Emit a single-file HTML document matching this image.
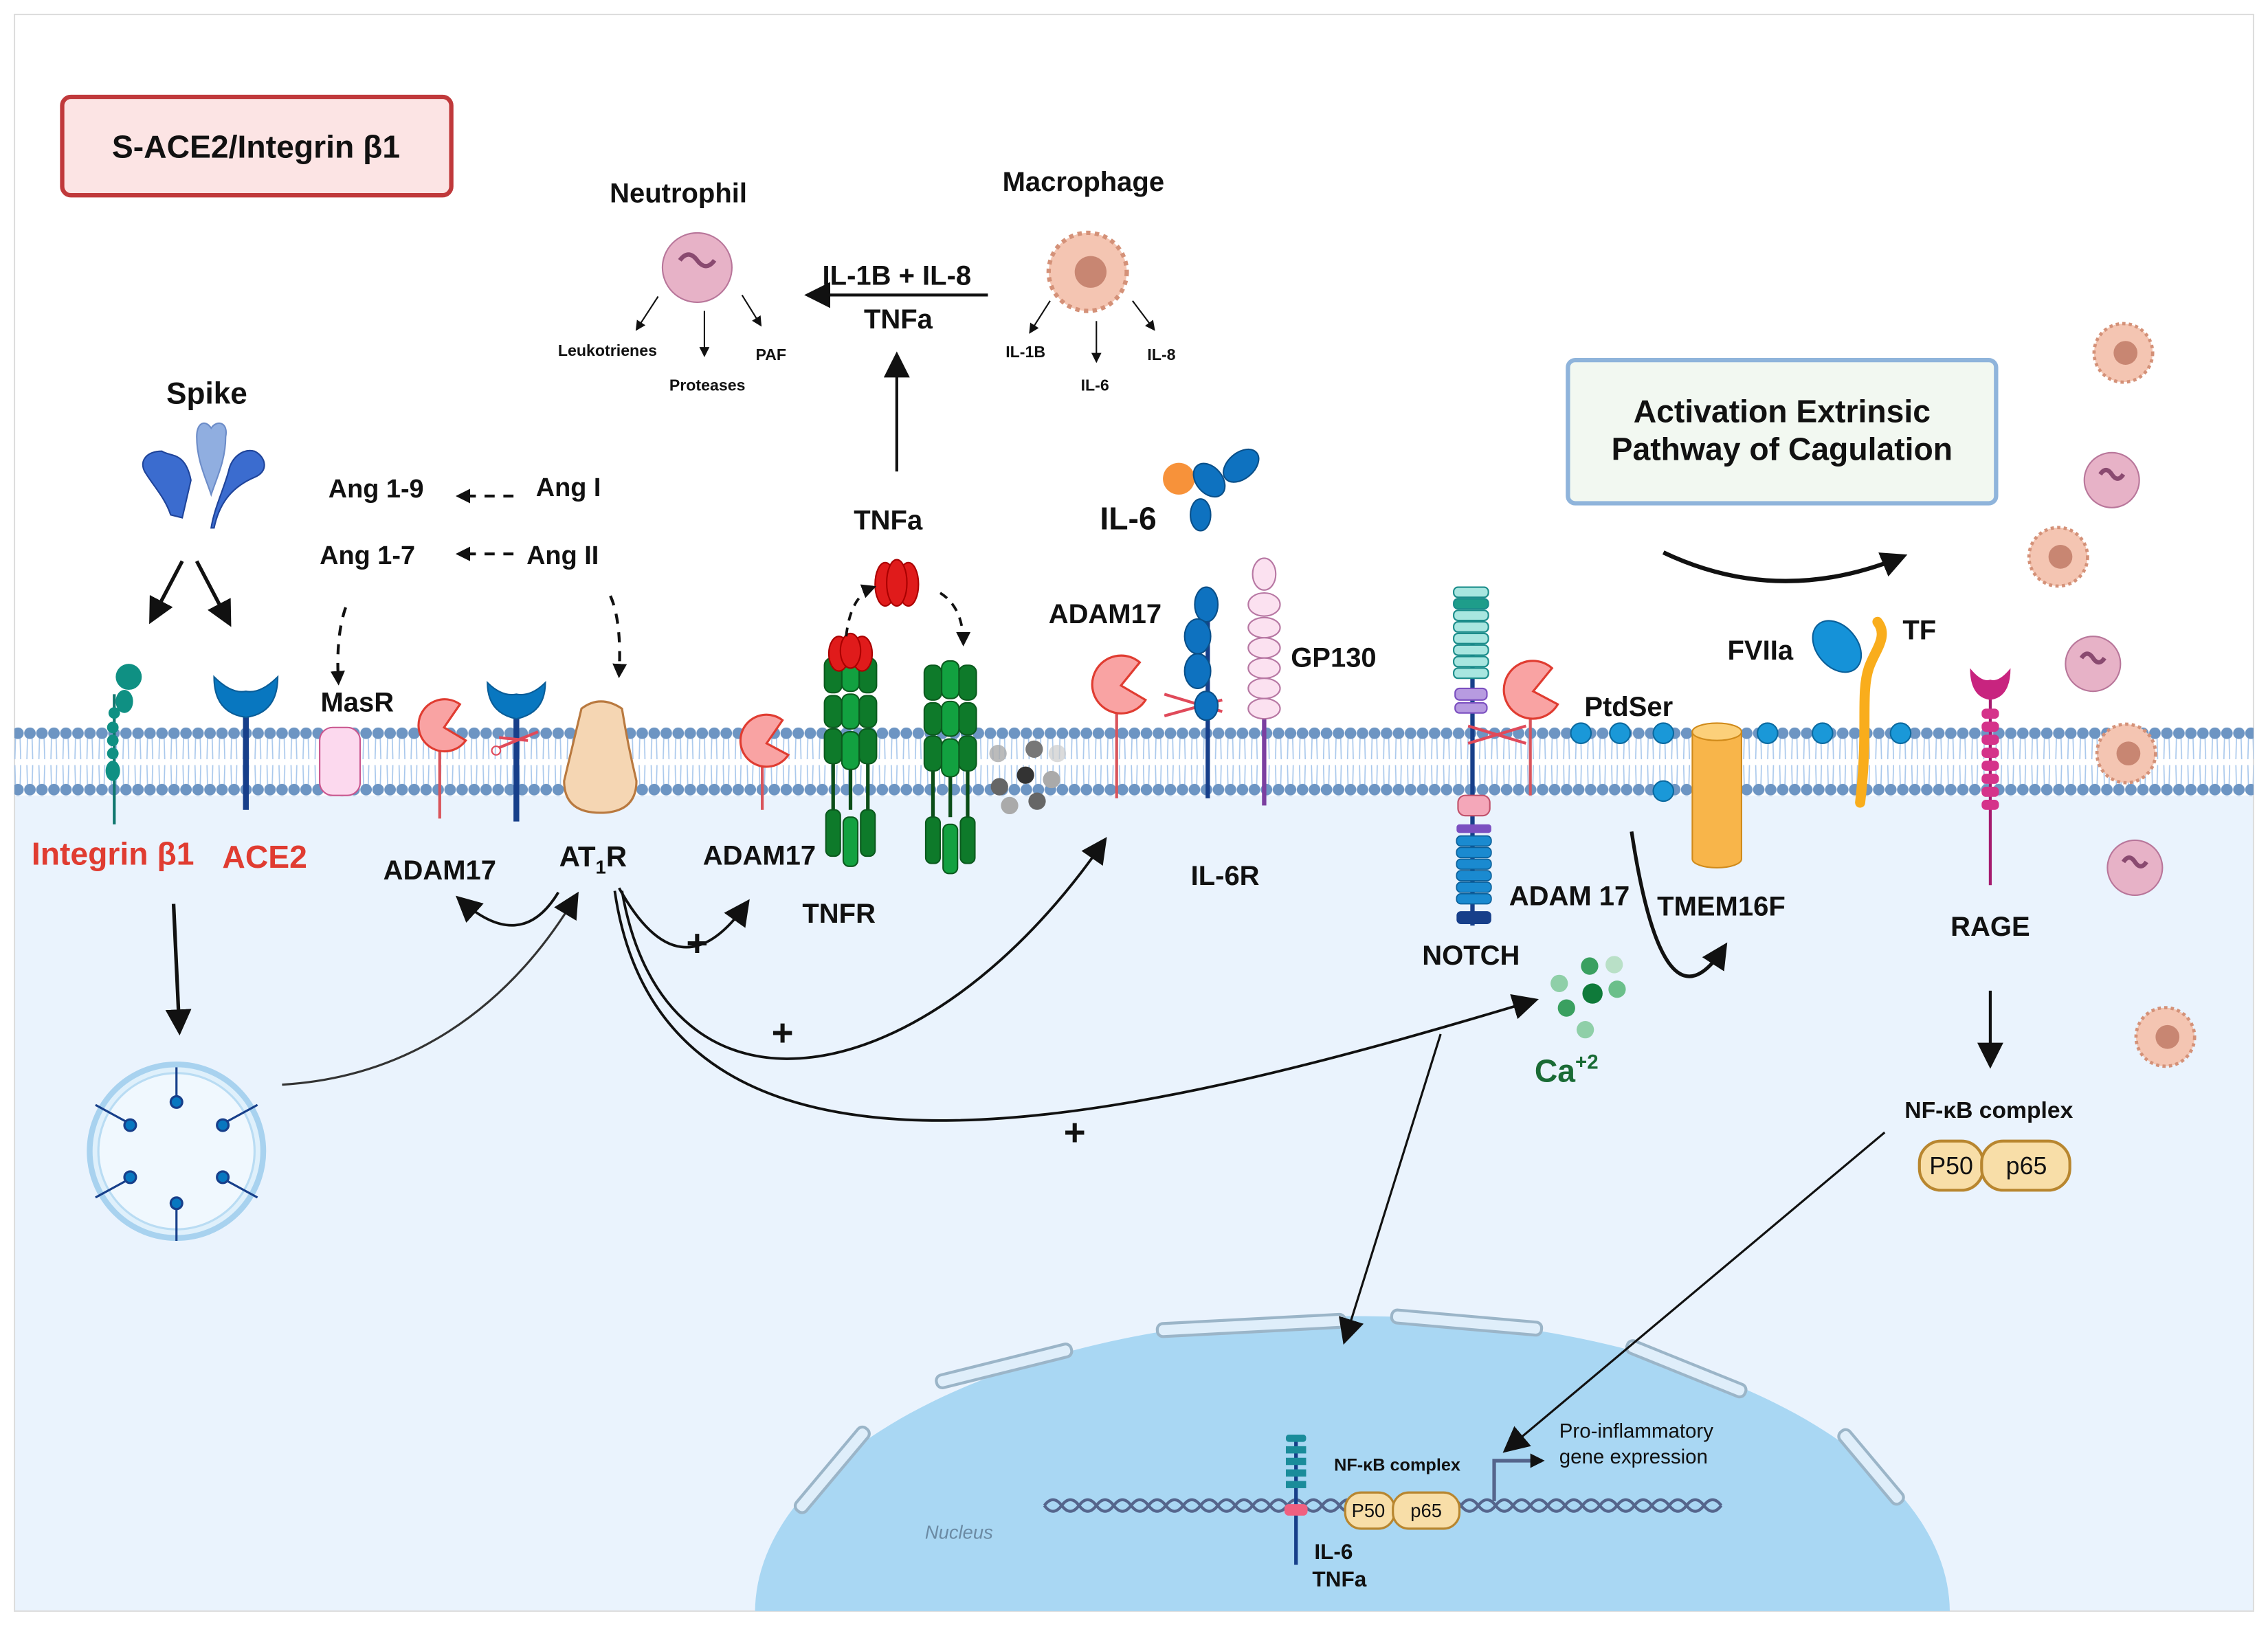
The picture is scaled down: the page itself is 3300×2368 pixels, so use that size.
<!DOCTYPE html>
<html><head><meta charset="utf-8"><style>
html,body{margin:0;padding:0;background:#fff;width:3300px;height:2368px;overflow:hidden;}
svg{display:block;}
text{font-family:"Liberation Sans",sans-serif;font-weight:bold;fill:#111;text-anchor:middle;}
</style></head><body>
<svg width="3300" height="2368" viewBox="0 0 1568 1125" preserveAspectRatio="none" xmlns="http://www.w3.org/2000/svg">
<defs>
<marker id="ah" markerWidth="10" markerHeight="10" refX="8" refY="5" orient="auto" markerUnits="userSpaceOnUse" viewBox="0 0 10 10"><path d="M0,0 L10,5 L0,10 z" fill="#111"/></marker>
<marker id="ahb" markerWidth="18" markerHeight="18" refX="14" refY="9" orient="auto" markerUnits="userSpaceOnUse" viewBox="0 0 18 18"><path d="M0,0 L18,9 L0,18 z" fill="#111"/></marker>
<marker id="ahs" markerWidth="7" markerHeight="7" refX="6" refY="3.5" orient="auto" markerUnits="userSpaceOnUse" viewBox="0 0 7 7"><path d="M0,0 L7,3.5 L0,7 z" fill="#111"/></marker>
<pattern id="lip" x="0" y="503" width="8.3" height="48" patternUnits="userSpaceOnUse">
<path d="M2.5,4 L2,22 M5.5,4 L6,22 M2,26 L2.5,44 M6,26 L5.5,44" stroke="#a9c8ec" stroke-width="0.8" fill="none"/>
<circle cx="4.1" cy="4" r="4" fill="#6d95c3"/>
<circle cx="4.1" cy="43" r="4" fill="#6d95c3"/>
</pattern>
<clipPath id="cl"><rect x="10" y="10" width="1548" height="1104"/></clipPath>
</defs>
<rect x="0" y="0" width="1568" height="1125" fill="#fff"/>
<rect x="10" y="550" width="1548" height="564" fill="#eaf3fd"/>
<rect x="10" y="10" width="1548" height="1104" fill="none" stroke="#ddd" stroke-width="1"/>
<g clip-path="url(#cl)">
<ellipse cx="935" cy="1115" rx="413" ry="205" fill="#a9d7f3"/>
<g fill="#dfeefa" stroke="#9bb5c8" stroke-width="2">
<rect x="538" y="1012" width="74" height="9" rx="4" transform="rotate(-50 575 1016)"/>
<rect x="646" y="940" width="96" height="9" rx="4" transform="rotate(-14 694 944)"/>
<rect x="800" y="912" width="130" height="9" rx="4" transform="rotate(-3 865 916)"/>
<rect x="962" y="910" width="104" height="9" rx="4" transform="rotate(5 1014 914)"/>
<rect x="1122" y="942" width="88" height="9" rx="4" transform="rotate(22 1166 946)"/>
<rect x="1262" y="1010" width="64" height="9" rx="4" transform="rotate(50 1294 1014)"/>
</g>
</g>
<rect x="10" y="503" width="1548" height="48" fill="url(#lip)"/>
<rect x="43" y="67" width="269" height="68" rx="6" fill="#fce4e4" stroke="#c0393b" stroke-width="3"/>
<text x="177" y="109" font-size="22">S-ACE2/Integrin β1</text>
<rect x="1084" y="249" width="296" height="99" rx="5" fill="#f2f8f1" stroke="#8fb4db" stroke-width="3"/>
<text x="1232" y="292" font-size="22">Activation Extrinsic</text>
<text x="1232" y="318" font-size="22">Pathway of Cagulation</text>
<text x="143" y="279" font-size="21">Spike</text>
<g fill="#3b6ccf" stroke="#1f449a" stroke-width="1">
<path d="M132,332 C128,312 118,316 112,312 C102,312 96,318 100,326 C106,336 114,344 118,356 L126,358 Z"/>
<path d="M148,365 C152,346 162,336 176,330 C186,326 184,316 176,312 C168,310 160,316 158,326 C154,340 148,352 146,365 Z"/>
</g>
<path d="M146,342 C142,330 136,318 136,302 C136,292 142,290 146,296 C150,290 158,292 156,302 C156,318 150,330 146,342 Z" fill="#90aee0" stroke="#6c8cc8"/>
<line x1="126" y1="388" x2="105" y2="428" stroke="#111" stroke-width="2.5" marker-end="url(#ahb)"/>
<line x1="136" y1="388" x2="158" y2="430" stroke="#111" stroke-width="2.5" marker-end="url(#ahb)"/>
<line x1="79" y1="480" x2="79" y2="570" stroke="#0f766e" stroke-width="2"/>
<g fill="#0f9083">
<circle cx="89" cy="468" r="9"/><ellipse cx="86" cy="485" rx="6" ry="8"/>
<ellipse cx="79" cy="493" rx="4" ry="4"/><circle cx="78" cy="503" r="4"/><circle cx="78" cy="512" r="4"/><circle cx="78" cy="521" r="4"/><ellipse cx="78" cy="533" rx="5" ry="7"/>
</g>
<text x="78" y="598" font-size="22" style="fill:#e03c31">Integrin β1</text>
<line x1="170" y1="490" x2="170" y2="560" stroke="#173f8a" stroke-width="4"/>
<path d="M148,468 Q160,480 170,478 Q180,480 192,468 Q192,493 170,496 Q148,493 148,468 Z" fill="#0877c0" stroke="#0a5d98"/>
<text x="183" y="600" font-size="22" style="fill:#e03c31">ACE2</text>
<line x1="120" y1="625" x2="124" y2="712" stroke="#111" stroke-width="2.5" marker-end="url(#ahb)"/>
<circle cx="122" cy="796" r="60" fill="#dff0fb" stroke="#a8d2ef" stroke-width="4"/>
<circle cx="122" cy="796" r="54" fill="#f0f8fe" stroke="#b9dcf3" stroke-width="1.5"/>
<g stroke="#173f8a" stroke-width="1.5" fill="#0877c0">
<line x1="122" y1="738" x2="122" y2="760"/><line x1="122" y1="834" x2="122" y2="858"/>
<line x1="66" y1="764" x2="88" y2="776"/><line x1="178" y1="764" x2="156" y2="776"/>
<line x1="66" y1="828" x2="88" y2="816"/><line x1="178" y1="828" x2="156" y2="816"/>
<circle cx="122" cy="762" r="4"/><circle cx="122" cy="832" r="4"/><circle cx="90" cy="778" r="4"/><circle cx="154" cy="778" r="4"/><circle cx="90" cy="814" r="4"/><circle cx="154" cy="814" r="4"/>
</g>
<path d="M195,750 C280,745 350,700 398,620" fill="none" stroke="#333" stroke-width="1.5" marker-end="url(#ahb)"/>
<text x="260" y="344" font-size="18">Ang 1-9</text>
<text x="254" y="390" font-size="18">Ang 1-7</text>
<text x="393" y="343" font-size="18">Ang I</text>
<text x="389" y="390" font-size="18">Ang II</text>
<line x1="355" y1="343" x2="317" y2="343" stroke="#111" stroke-width="2" stroke-dasharray="7,6" marker-end="url(#ah)"/>
<line x1="355" y1="383" x2="317" y2="383" stroke="#111" stroke-width="2" stroke-dasharray="7,6" marker-end="url(#ah)"/>
<path d="M239,420 Q232,440 234,472" fill="none" stroke="#111" stroke-width="2" stroke-dasharray="7,6" marker-end="url(#ah)"/>
<path d="M422,412 Q430,430 428,467" fill="none" stroke="#111" stroke-width="2" stroke-dasharray="7,6" marker-end="url(#ah)"/>
<text x="247" y="492" font-size="19">MasR</text>
<rect x="221" y="503" width="28" height="47" rx="9" fill="#fcd9ee" stroke="#c9568e"/>
<line x1="304" y1="515" x2="304" y2="566" stroke="#d9545b" stroke-width="2"/>
<path d="M318,487 A18,18 0 1 0 322,512 L307,503 Z" fill="#f9a3a3" stroke="#e03c31" stroke-width="1.5"/>
<text x="304" y="608" font-size="19">ADAM17</text>
<line x1="357" y1="485" x2="357" y2="568" stroke="#173f8a" stroke-width="4"/>
<path d="M337,472 Q347,482 357,480 Q367,482 377,472 Q377,493 357,497 Q337,493 337,472 Z" fill="#0877c0" stroke="#0a5d98"/>
<path d="M345,517 L372,506 M345,510 L365,512" stroke="#e04a5a" stroke-width="2"/><circle cx="343" cy="519" r="3" fill="none" stroke="#e04a5a"/>
<path d="M402,490 Q415,480 430,490 Q434,515 440,540 Q440,562 415,562 Q390,562 390,540 Q396,515 402,490 Z" fill="#f5d6b3" stroke="#b9793f" stroke-width="1.5"/>
<text x="410" y="599" font-size="20">AT<tspan font-size="13" dy="5">1</tspan><tspan dy="-5">R</tspan></text>
<path d="M386,617 Q360,660 318,622" fill="none" stroke="#111" stroke-width="1.8" marker-end="url(#ahb)"/>
<path d="M428,614 Q470,690 516,625" fill="none" stroke="#111" stroke-width="1.8" marker-end="url(#ahb)"/>
<path d="M430,616 C460,790 640,760 763,582" fill="none" stroke="#111" stroke-width="1.8" marker-end="url(#ahb)"/>
<path d="M425,616 C460,860 800,770 1060,692" fill="none" stroke="#111" stroke-width="1.8" marker-end="url(#ahb)"/>
<text x="482" y="661" font-size="26">+</text>
<text x="541" y="723" font-size="26">+</text>
<text x="743" y="792" font-size="26">+</text>
<line x1="527" y1="525" x2="527" y2="560" stroke="#d9545b" stroke-width="2"/>
<path d="M541,498 A18,18 0 1 0 545,522 L530,514 Z" fill="#f9a3a3" stroke="#e03c31" stroke-width="1.5"/>
<text x="525" y="598" font-size="19">ADAM17</text>
<g id="tnfr">
<g stroke="#0b5a1e" stroke-width="1">
<line x1="576" y1="525" x2="576" y2="560" stroke="#0b4d18" stroke-width="2.5"/>
<line x1="588" y1="525" x2="588" y2="560" stroke="#0b4d18" stroke-width="2.5"/>
<line x1="600" y1="525" x2="600" y2="560" stroke="#0b4d18" stroke-width="2.5"/>
<rect x="570" y="455" width="12" height="24" rx="5" fill="#0e7a2a"/><rect x="594" y="455" width="12" height="24" rx="5" fill="#0e7a2a"/><rect x="582" y="452" width="12" height="26" rx="5" fill="#12a140"/>
<rect x="570" y="481" width="12" height="22" rx="5" fill="#0e7a2a"/><rect x="594" y="481" width="12" height="22" rx="5" fill="#0e7a2a"/><rect x="582" y="480" width="12" height="24" rx="5" fill="#12a140"/>
<rect x="570" y="504" width="12" height="24" rx="5" fill="#0e7a2a"/><rect x="594" y="504" width="12" height="24" rx="5" fill="#0e7a2a"/><rect x="582" y="506" width="12" height="26" rx="5" fill="#12a140"/>
<rect x="571" y="560" width="10" height="32" rx="4" fill="#0e7a2a"/><rect x="595" y="560" width="10" height="32" rx="4" fill="#0e7a2a"/><rect x="583" y="565" width="10" height="34" rx="4" fill="#12a140"/>
</g></g>
<use href="#tnfr" transform="translate(69,5)"/>
<g fill="#e01b1b" stroke="#a00" stroke-width="1"><ellipse cx="580" cy="452" rx="7" ry="12"/><ellipse cx="596" cy="452" rx="7" ry="12"/><ellipse cx="588" cy="450" rx="7" ry="12"/></g>
<text x="580" y="638" font-size="19">TNFR</text>
<g fill="#e01b1b" stroke="#a00" stroke-width="1"><ellipse cx="612" cy="404" rx="7" ry="15"/><ellipse cx="628" cy="404" rx="7" ry="15"/><ellipse cx="620" cy="403" rx="7" ry="16"/></g>
<text x="614" y="366" font-size="19">TNFa</text>
<path d="M585,440 Q588,412 604,406" fill="none" stroke="#111" stroke-width="1.8" stroke-dasharray="6,5" marker-end="url(#ah)"/>
<path d="M650,410 Q666,420 666,445" fill="none" stroke="#111" stroke-width="1.8" stroke-dasharray="6,5" marker-end="url(#ah)"/>
<line x1="620" y1="326" x2="620" y2="247" stroke="#111" stroke-width="2" marker-end="url(#ahb)"/>
<text x="620" y="197" font-size="19">IL-1B + IL-8</text>
<text x="621" y="227" font-size="19">TNFa</text>
<line x1="683" y1="204" x2="560" y2="204" stroke="#111" stroke-width="2" marker-end="url(#ahb)"/>
<g><circle cx="690" cy="521" r="6" fill="#aaa" opacity="0.8"/><circle cx="715" cy="518" r="6" fill="#777"/><circle cx="731" cy="521" r="6" fill="#ccc" opacity="0.7"/><circle cx="709" cy="536" r="6" fill="#333"/><circle cx="727" cy="539" r="6" fill="#aaa"/><circle cx="691" cy="544" r="6" fill="#666"/><circle cx="698" cy="557" r="6" fill="#aaa"/><circle cx="717" cy="554" r="6" fill="#666"/></g>
<text x="469" y="140" font-size="19">Neutrophil</text>
<circle cx="482" cy="185" r="24" fill="#e7b2c7" stroke="#b8769a"/>
<path d="M470,180 q6,-8 12,0 q6,8 12,0" stroke="#8a4a70" fill="none" stroke-width="3"/>
<line x1="455" y1="205" x2="440" y2="228" stroke="#111" stroke-width="1" marker-end="url(#ahs)"/>
<line x1="487" y1="215" x2="487" y2="246" stroke="#111" stroke-width="1" marker-end="url(#ahs)"/>
<line x1="513" y1="204" x2="526" y2="225" stroke="#111" stroke-width="1" marker-end="url(#ahs)"/>
<text x="420" y="246" font-size="11">Leukotrienes</text>
<text x="489" y="270" font-size="11">Proteases</text>
<text x="533" y="249" font-size="11">PAF</text>
<text x="749" y="132" font-size="19">Macrophage</text>
<g id="mac"><circle cx="752" cy="188" r="27" fill="#f4c5b2" stroke="#d49178" stroke-width="3" stroke-dasharray="3,3"/><circle cx="752" cy="188" r="24" fill="#f4c5b2"/><circle cx="754" cy="188" r="11" fill="#c88672"/></g>
<line x1="726" y1="208" x2="712" y2="230" stroke="#111" stroke-width="1" marker-end="url(#ahs)"/>
<line x1="758" y1="222" x2="758" y2="250" stroke="#111" stroke-width="1" marker-end="url(#ahs)"/>
<line x1="783" y1="208" x2="798" y2="228" stroke="#111" stroke-width="1" marker-end="url(#ahs)"/>
<text x="709" y="247" font-size="11">IL-1B</text>
<text x="757" y="270" font-size="11">IL-6</text>
<text x="803" y="249" font-size="11">IL-8</text>
<text x="780" y="366" font-size="22">IL-6</text>
<circle cx="815" cy="331" r="11" fill="#f7923a"/>
<g fill="#0e72c0" stroke="#0a4f88"><ellipse cx="836" cy="332" rx="9" ry="13" transform="rotate(-40 836 332)"/><ellipse cx="858" cy="322" rx="9" ry="14" transform="rotate(50 858 322)"/><ellipse cx="830" cy="356" rx="7" ry="11"/></g>
<text x="764" y="431" font-size="19">ADAM17</text>
<line x1="772" y1="485" x2="772" y2="552" stroke="#d9545b" stroke-width="2"/>
<path d="M788,458 A20,20 0 1 0 792,484 L775,474 Z" fill="#f9a3a3" stroke="#e03c31" stroke-width="1.5"/>
<path d="M805,480 L845,492 M805,495 L845,484" stroke="#e04a5a" stroke-width="2"/>
<line x1="835" y1="430" x2="835" y2="552" stroke="#173f8a" stroke-width="3"/>
<g fill="#0e72c0" stroke="#0a4f88"><ellipse cx="834" cy="418" rx="8" ry="12"/><ellipse cx="828" cy="440" rx="9" ry="12"/><ellipse cx="828" cy="464" rx="9" ry="12"/><ellipse cx="834" cy="488" rx="8" ry="10"/></g>
<line x1="874" y1="490" x2="874" y2="557" stroke="#7b3fa0" stroke-width="3"/>
<g fill="#fbe1f0" stroke="#b777a3"><ellipse cx="874" cy="397" rx="8" ry="11"/><ellipse cx="874" cy="418" rx="11" ry="8"/><ellipse cx="874" cy="434" rx="11" ry="7"/><ellipse cx="874" cy="448" rx="11" ry="7"/><ellipse cx="874" cy="462" rx="11" ry="7"/><ellipse cx="874" cy="476" rx="11" ry="7"/><ellipse cx="874" cy="490" rx="11" ry="7"/></g>
<text x="922" y="461" font-size="19">GP130</text>
<text x="847" y="612" font-size="19">IL-6R</text>
<line x1="1018" y1="440" x2="1018" y2="640" stroke="#173f8a" stroke-width="3"/>
<g stroke="#1a8c8a" stroke-width="1">
<rect x="1005" y="406" width="24" height="7" rx="3" fill="#a8e6e0"/><rect x="1005" y="414" width="24" height="7" rx="3" fill="#1e9d8a"/><rect x="1005" y="422" width="24" height="7" rx="3" fill="#a8e6e0"/><rect x="1005" y="430" width="24" height="7" rx="3" fill="#a8e6e0"/><rect x="1005" y="438" width="24" height="7" rx="3" fill="#a8e6e0"/><rect x="1005" y="446" width="24" height="7" rx="3" fill="#a8e6e0"/><rect x="1005" y="454" width="24" height="7" rx="3" fill="#a8e6e0"/><rect x="1005" y="462" width="24" height="7" rx="3" fill="#a8e6e0"/>
</g>
<rect x="1006" y="476" width="22" height="8" rx="3" fill="#b79be0" stroke="#7b4fc0"/><rect x="1006" y="486" width="22" height="7" rx="3" fill="#b79be0" stroke="#7b4fc0"/>
<rect x="1008" y="550" width="22" height="14" rx="5" fill="#f4a7b9" stroke="#c0506a"/>
<rect x="1007" y="570" width="24" height="6" rx="2" fill="#7b4fc0"/>
<g fill="#1a8ad0" stroke="#0b5f99" stroke-width="0.8"><rect x="1007" y="578" width="24" height="7" rx="3"/><rect x="1007" y="586" width="24" height="7" rx="3"/><rect x="1007" y="594" width="24" height="7" rx="3"/><rect x="1007" y="602" width="24" height="7" rx="3"/><rect x="1007" y="610" width="24" height="7" rx="3"/><rect x="1007" y="618" width="24" height="7" rx="3"/></g>
<rect x="1007" y="630" width="24" height="9" rx="3" fill="#173f8a"/>
<line x1="1058" y1="490" x2="1058" y2="550" stroke="#d9545b" stroke-width="2"/>
<path d="M1073,462 A20,20 0 1 0 1077,487 L1060,478 Z" fill="#f9a3a3" stroke="#e03c31" stroke-width="1.5"/>
<path d="M1015,502 L1055,514 M1015,514 L1055,502" stroke="#e04a5a" stroke-width="2"/>
<text x="1085" y="626" font-size="19">ADAM 17</text>
<text x="1017" y="667" font-size="19">NOTCH</text>
<g><circle cx="1099" cy="668" r="6" fill="#3aa060"/><circle cx="1116" cy="667" r="6" fill="#b9e0c7"/><circle cx="1078" cy="680" r="6" fill="#8fcfa8"/><circle cx="1101" cy="687" r="7" fill="#0f7a3a"/><circle cx="1118" cy="684" r="6" fill="#6bbf8a"/><circle cx="1083" cy="697" r="6" fill="#3aa060"/><circle cx="1096" cy="712" r="6" fill="#8fcfa8"/></g>
<text x="1083" y="748" font-size="22" style="fill:#1a6b35">Ca<tspan font-size="14" dy="-9">+2</tspan></text>
<text x="1126" y="495" font-size="19">PtdSer</text>
<g fill="#1a98d8" stroke="#0b6aa0"><circle cx="1093" cy="507" r="7"/><circle cx="1120" cy="507" r="7"/><circle cx="1150" cy="507" r="7"/><circle cx="1150" cy="547" r="7"/><circle cx="1222" cy="507" r="7"/><circle cx="1260" cy="507" r="7"/><circle cx="1314" cy="507" r="7"/></g>
<path d="M1170,506 L1170,594 A17,6 0 0 0 1204,594 L1204,506 Z" fill="#f8b54a" stroke="#d08a1a"/>
<ellipse cx="1187" cy="506" rx="17" ry="6" fill="#fcd07a" stroke="#d08a1a"/>
<text x="1190" y="633" font-size="19">TMEM16F</text>
<path d="M1128,575 Q1150,720 1192,655" fill="none" stroke="#111" stroke-width="2.5" marker-end="url(#ahb)"/>
<path d="M1150,382 Q1230,420 1315,385" fill="none" stroke="#111" stroke-width="3" marker-end="url(#ahb)"/>
<text x="1217" y="456" font-size="19">FVIIa</text>
<ellipse cx="1270" cy="447" rx="14" ry="20" transform="rotate(-40 1270 447)" fill="#1592d8" stroke="#0a5f99"/>
<path d="M1298,430 C1306,440 1296,450 1292,462 C1286,480 1292,505 1286,555" fill="none" stroke="#f9ad1c" stroke-width="7" stroke-linecap="round"/>
<text x="1327" y="442" font-size="19">TF</text>
<line x1="1376" y1="478" x2="1376" y2="612" stroke="#a51a6e" stroke-width="2"/>
<path d="M1362,462 Q1370,472 1376,470 Q1382,472 1390,462 Q1390,482 1376,484 Q1362,482 1362,462 Z" fill="#c8247f"/>
<g fill="#d5338a"><rect x="1370" y="490" width="12" height="7" rx="3"/><rect x="1370" y="499" width="12" height="7" rx="3"/><rect x="1370" y="508" width="12" height="7" rx="3"/><rect x="1370" y="517" width="12" height="7" rx="3"/><rect x="1370" y="526" width="12" height="7" rx="3"/><rect x="1370" y="535" width="12" height="7" rx="3"/><rect x="1370" y="544" width="12" height="7" rx="3"/><rect x="1370" y="553" width="12" height="7" rx="3"/></g>
<text x="1376" y="647" font-size="19">RAGE</text>
<line x1="1376" y1="685" x2="1376" y2="735" stroke="#111" stroke-width="2" marker-end="url(#ahb)"/>
<text x="1375" y="773" font-size="16">NF-κB complex</text>
<rect x="1327" y="789" width="44" height="34" rx="15" fill="#f8dea8" stroke="#b8862f" stroke-width="2"/>
<rect x="1370" y="789" width="61" height="34" rx="15" fill="#f8dea8" stroke="#b8862f" stroke-width="2"/>
<text x="1349" y="812" font-size="17" style="font-weight:normal">P50</text>
<text x="1401" y="812" font-size="17" style="font-weight:normal">p65</text>
<use href="#mac" transform="translate(1468,244) scale(0.75) translate(-752,-188)"/>
<use href="#mac" transform="translate(1423,385) scale(0.75) translate(-752,-188)"/>
<use href="#mac" transform="translate(1470,521) scale(0.75) translate(-752,-188)"/>
<use href="#mac" transform="translate(1497,717) scale(0.75) translate(-752,-188)"/>
<g fill="#e7b2c7" stroke="#b8769a"><circle cx="1460" cy="332" r="19"/><circle cx="1447" cy="459" r="19"/><circle cx="1476" cy="600" r="19"/></g>
<g stroke="#8a4a70" fill="none" stroke-width="3"><path d="M1452,328 q4,-6 8,0 q4,6 8,0"/><path d="M1439,455 q4,-6 8,0 q4,6 8,0"/><path d="M1468,596 q4,-6 8,0 q4,6 8,0"/></g>
<line x1="996" y1="715" x2="930" y2="926" stroke="#111" stroke-width="1.5" marker-end="url(#ahb)"/>
<line x1="1303" y1="783" x2="1042" y2="1002" stroke="#111" stroke-width="1.5" marker-end="url(#ahb)"/>
<path d="M722,1041 q6,-8 12,0 t12,0 t12,0 t12,0 t12,0 t12,0 t12,0 t12,0 t12,0 t12,0 t12,0 t12,0 t12,0 t12,0 t12,0 t12,0 t12,0 t12,0 t12,0 t12,0 t12,0 t12,0 t12,0 t12,0 t12,0 t12,0 t12,0 t12,0 t12,0 t12,0 t12,0 t12,0 t12,0 t12,0 t12,0 t12,0 t12,0 t12,0 t12,0" fill="none" stroke="#55658c" stroke-width="2"/>
<path d="M722,1041 q6,8 12,0 t12,0 t12,0 t12,0 t12,0 t12,0 t12,0 t12,0 t12,0 t12,0 t12,0 t12,0 t12,0 t12,0 t12,0 t12,0 t12,0 t12,0 t12,0 t12,0 t12,0 t12,0 t12,0 t12,0 t12,0 t12,0 t12,0 t12,0 t12,0 t12,0 t12,0 t12,0 t12,0 t12,0 t12,0 t12,0 t12,0 t12,0 t12,0" fill="none" stroke="#55658c" stroke-width="2"/>
<line x1="896" y1="995" x2="896" y2="1082" stroke="#173f8a" stroke-width="2.5"/>
<g fill="#1a8c9a"><rect x="889" y="992" width="14" height="5" rx="2"/><rect x="889" y="1000" width="14" height="5"/><rect x="889" y="1008" width="14" height="5"/><rect x="889" y="1016" width="14" height="5"/><rect x="889" y="1024" width="14" height="5"/></g>
<rect x="888" y="1040" width="16" height="8" rx="3" fill="#f06080"/>
<text x="966" y="1017" font-size="12">NF-κB complex</text>
<rect x="930" y="1032" width="34" height="25" rx="11" fill="#f8dea8" stroke="#b8862f" stroke-width="1.5"/>
<rect x="963" y="1032" width="46" height="25" rx="11" fill="#f8dea8" stroke="#b8862f" stroke-width="1.5"/>
<text x="946" y="1049" font-size="13" style="font-weight:normal">P50</text>
<text x="986" y="1049" font-size="13" style="font-weight:normal">p65</text>
<path d="M1033,1038 L1033,1010 L1066,1010" fill="none" stroke="#55658c" stroke-width="2.5" marker-end="url(#ah)"/>
<text x="1078" y="994" font-size="14" style="font-weight:normal;text-anchor:start">Pro-inflammatory</text>
<text x="1078" y="1012" font-size="14" style="font-weight:normal;text-anchor:start">gene expression</text>
<text x="922" y="1078" font-size="15">IL-6</text>
<text x="926" y="1097" font-size="15">TNFa</text>
<text x="663" y="1064" font-size="13" style="font-weight:normal;font-style:italic;fill:#6b8aa3">Nucleus</text>
</svg>
</body></html>
